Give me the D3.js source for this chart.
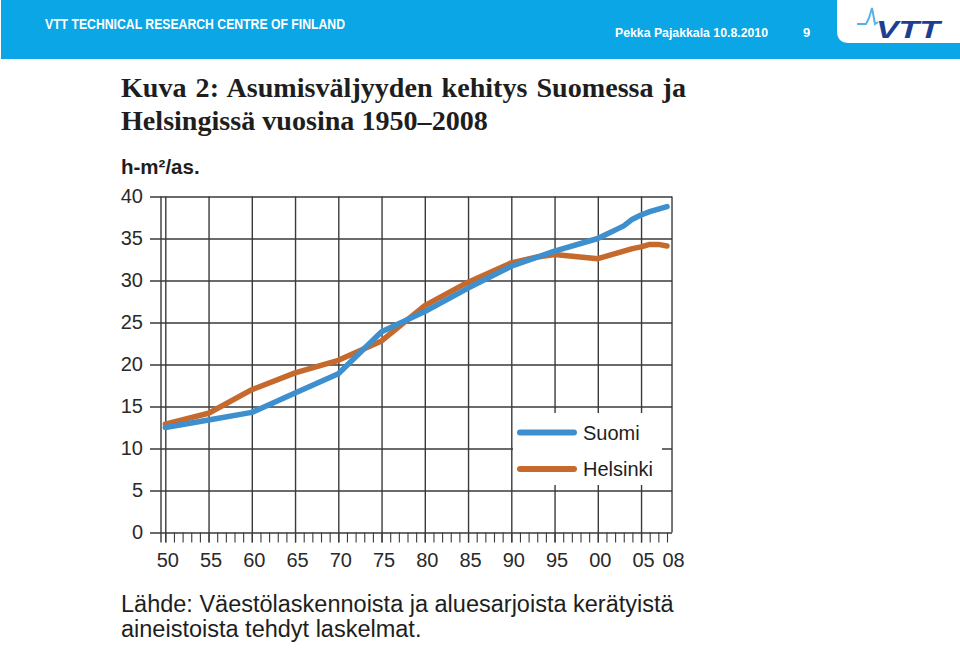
<!DOCTYPE html>
<html><head><meta charset="utf-8">
<script src="https://cdn.jsdelivr.net/npm/d3@7/dist/d3.min.js"></script>
<style>
html,body{margin:0;padding:0;background:#fff;}
svg{display:block;}
</style></head>
<body>
<svg id="c" width="960" height="654"></svg>
<script>
// ---- data ----
const suomiYears =   [1950,1955,1960,1965,1970,1975,1980,1985,1990,1995,2000,2001,2002,2003,2004,2005,2006,2007,2008];
const suomiValues =  [12.5,13.4,14.3,16.6,18.9,23.9,26.3,29.1,31.7,33.5,35.0,35.5,36.0,36.5,37.3,37.8,38.2,38.5,38.8];
const helsinkiYears =  [1950,1955,1960,1965,1970,1975,1980,1985,1990,1993,1995,2000,2001,2002,2003,2004,2005,2006,2007,2008];
const helsinkiValues = [12.9,14.2,17.0,19.0,20.5,22.8,27.0,29.8,32.1,32.8,33.1,32.6,32.9,33.2,33.5,33.8,34.0,34.3,34.3,34.1];
const yTicks = [0,5,10,15,20,25,30,35,40];
const xMajor = [1950,1955,1960,1965,1970,1975,1980,1985,1990,1995,2000,2005];
const xLabelYears = [1950,1955,1960,1965,1970,1975,1980,1985,1990,1995,2000,2005,2008];
const seriesNames = ["Suomi","Helsinki"];
const titleLines = ["Kuva 2: Asumisväljyyden kehitys Suomessa ja","Helsingissä vuosina 1950–2008"];
const unitLabel = "h-m²/as.";
const sourceLines = ["Lähde: Väestölaskennoista ja aluesarjoista kerätyistä","aineistoista tehdyt laskelmat."];

const BLUE = "#3e8fcd", ORANGE = "#c6692d", GRID = "#3a3a3a";
const svg = d3.select("#c");

// ---- header ----
svg.append("rect").attr("x",1).attr("y",0).attr("width",959).attr("height",59).attr("fill","#0aa6e5");
svg.append("path").attr("d","M837,0 H960 V43 H849 Q837,43 837,31 Z").attr("fill","#fff");
svg.append("text").attr("x",45).attr("y",29).attr("fill","#fff")
  .attr("font-family","Liberation Sans, Arial, sans-serif").attr("font-weight","bold").attr("font-size",14)
  .attr("textLength",300).attr("lengthAdjust","spacingAndGlyphs").text("VTT TECHNICAL RESEARCH CENTRE OF FINLAND");
svg.append("text").attr("x",615).attr("y",37).attr("fill","#fff")
  .attr("font-family","Liberation Sans, Arial, sans-serif").attr("font-weight","bold").attr("font-size",13)
  .attr("textLength",153).attr("lengthAdjust","spacingAndGlyphs").text("Pekka Pajakkala 10.8.2010");
svg.append("text").attr("x",803).attr("y",37).attr("fill","#fff")
  .attr("font-family","Liberation Sans, Arial, sans-serif").attr("font-weight","bold").attr("font-size",13).text("9");
// logo
svg.append("path").attr("d","M857,24 L866,24 L869,18 L872,8 L875,24 L878,22")
  .attr("fill","none").attr("stroke","#58b2e4").attr("stroke-width",2);
svg.append("text").attr("x",876).attr("y",38).attr("fill","#1c3f95")
  .attr("font-family","Liberation Sans, Arial, sans-serif").attr("font-weight","bold").attr("font-style","italic")
  .attr("font-size",24).attr("textLength",64).attr("lengthAdjust","spacingAndGlyphs").text("VTT");

// ---- title ----
const t1 = svg.append("text").attr("x",121).attr("y",97).attr("fill","#1e1e1e")
  .attr("font-family","Liberation Serif, Times New Roman, serif").attr("font-weight","bold").attr("font-size",28).text(titleLines[0]);
const t2 = svg.append("text").attr("x",121).attr("y",130).attr("fill","#1e1e1e")
  .attr("font-family","Liberation Serif, Times New Roman, serif").attr("font-weight","bold").attr("font-size",28).text(titleLines[1]);
const w2 = t2.node().getComputedTextLength();
const fs = 28 * 367 / w2;
t1.attr("font-size",fs); t2.attr("font-size",fs);
const w1 = t1.node().getComputedTextLength();
const nSpaces = titleLines[0].split(" ").length - 1;
t1.attr("word-spacing", Math.max(0,(565 - w1)/nSpaces));

svg.append("text").attr("x",121).attr("y",174).attr("fill","#1e1e1e")
  .attr("font-family","Liberation Sans, Arial, sans-serif").attr("font-weight","bold").attr("font-size",20.5).text(unitLabel);

// ---- scales ----
const x = d3.scaleLinear().domain([1950, 2008]).range([165.3, 667]);
const y = d3.scaleLinear().domain([0, 40]).range([532.5, 196.5]);
const xRight = x(2008.58);
const xLeft = 150;

// horizontal grid + y labels
const gy = svg.append("g").attr("transform",`translate(${xLeft},0)`)
  .call(d3.axisLeft(y).tickValues(yTicks).tickSize(-(xRight - xLeft)).tickPadding(7).tickFormat(d3.format("d")));
gy.select(".domain").remove();
gy.selectAll(".tick line").attr("stroke",GRID).attr("stroke-width",1.4);
gy.selectAll(".tick text").attr("font-family","Liberation Sans, Arial, sans-serif").attr("font-size",20).attr("fill","#2a2a2a");

// minor yearly ticks
const gm = svg.append("g").attr("transform",`translate(0,${y(0)})`)
  .call(d3.axisBottom(x).tickValues(d3.range(1950,2009)).tickSize(10).tickFormat(""));
gm.select(".domain").remove();
gm.selectAll(".tick line").attr("stroke",GRID).attr("stroke-width",1.1);

// vertical major grid
const gx = svg.append("g").attr("transform",`translate(0,${y(0)})`)
  .call(d3.axisBottom(x).tickValues(xMajor).tickSizeInner(-(y(0)-y(40))).tickSizeOuter(0).tickFormat(""));
gx.select(".domain").remove();
gx.selectAll(".tick line").attr("stroke",GRID).attr("stroke-width",1.4).attr("y2",-(y(0)-y(40))).attr("y1",10);

// x labels
const gl = svg.append("g").attr("transform",`translate(0,${y(0)})`)
  .call(d3.axisBottom(x).tickValues(xLabelYears).tickSize(0).tickPadding(20.5).tickFormat(d => String(d).slice(2)));
gl.select(".domain").remove();
gl.selectAll(".tick text").attr("font-family","Liberation Sans, Arial, sans-serif").attr("font-size",20).attr("fill","#2a2a2a")
  .attr("dx", d => d === 2008 ? 6 : 2);

// y axis line & right frame
svg.append("line").attr("x1",161).attr("x2",161).attr("y1",y(40)).attr("y2",y(0)+10).attr("stroke",GRID).attr("stroke-width",1.4);
svg.append("line").attr("x1",xRight).attr("x2",xRight).attr("y1",y(40)).attr("y2",y(0)).attr("stroke",GRID).attr("stroke-width",1.4);

// ---- legend box (covers grid) ----
svg.append("rect").attr("x",513).attr("y",413).attr("width",149).attr("height",72).attr("fill","#fff");

// ---- lines ----
const line = d3.line().x(d => x(d[0])).y(d => y(d[1]));
const hData = helsinkiYears.map((yr,i) => [yr, helsinkiValues[i]]);
const sData = suomiYears.map((yr,i) => [yr, suomiValues[i]]);
svg.append("path").datum(hData).attr("d",line).attr("fill","none").attr("stroke",ORANGE)
  .attr("stroke-width",5.5).attr("stroke-linejoin","round").attr("stroke-linecap","round");
svg.append("path").datum(sData).attr("d",line).attr("fill","none").attr("stroke",BLUE)
  .attr("stroke-width",5.5).attr("stroke-linejoin","round").attr("stroke-linecap","round");

// ---- legend ----
const legY = [432.5, 469];
const colors = [BLUE, ORANGE];
seriesNames.forEach((n,i) => {
  svg.append("line").attr("x1",520).attr("x2",574).attr("y1",legY[i]).attr("y2",legY[i])
    .attr("stroke",colors[i]).attr("stroke-width",6).attr("stroke-linecap","round");
  svg.append("text").attr("x",583).attr("y",legY[i]+7).attr("fill","#1e1e1e")
    .attr("font-family","Liberation Sans, Arial, sans-serif").attr("font-size",20).text(n);
});

// ---- source ----
sourceLines.forEach((s,i) => {
  svg.append("text").attr("x",121).attr("y",612 + i*25).attr("fill","#1e1e1e")
    .attr("font-family","Liberation Sans, Arial, sans-serif").attr("font-size",23.5).text(s);
});
</script>
</body></html>
